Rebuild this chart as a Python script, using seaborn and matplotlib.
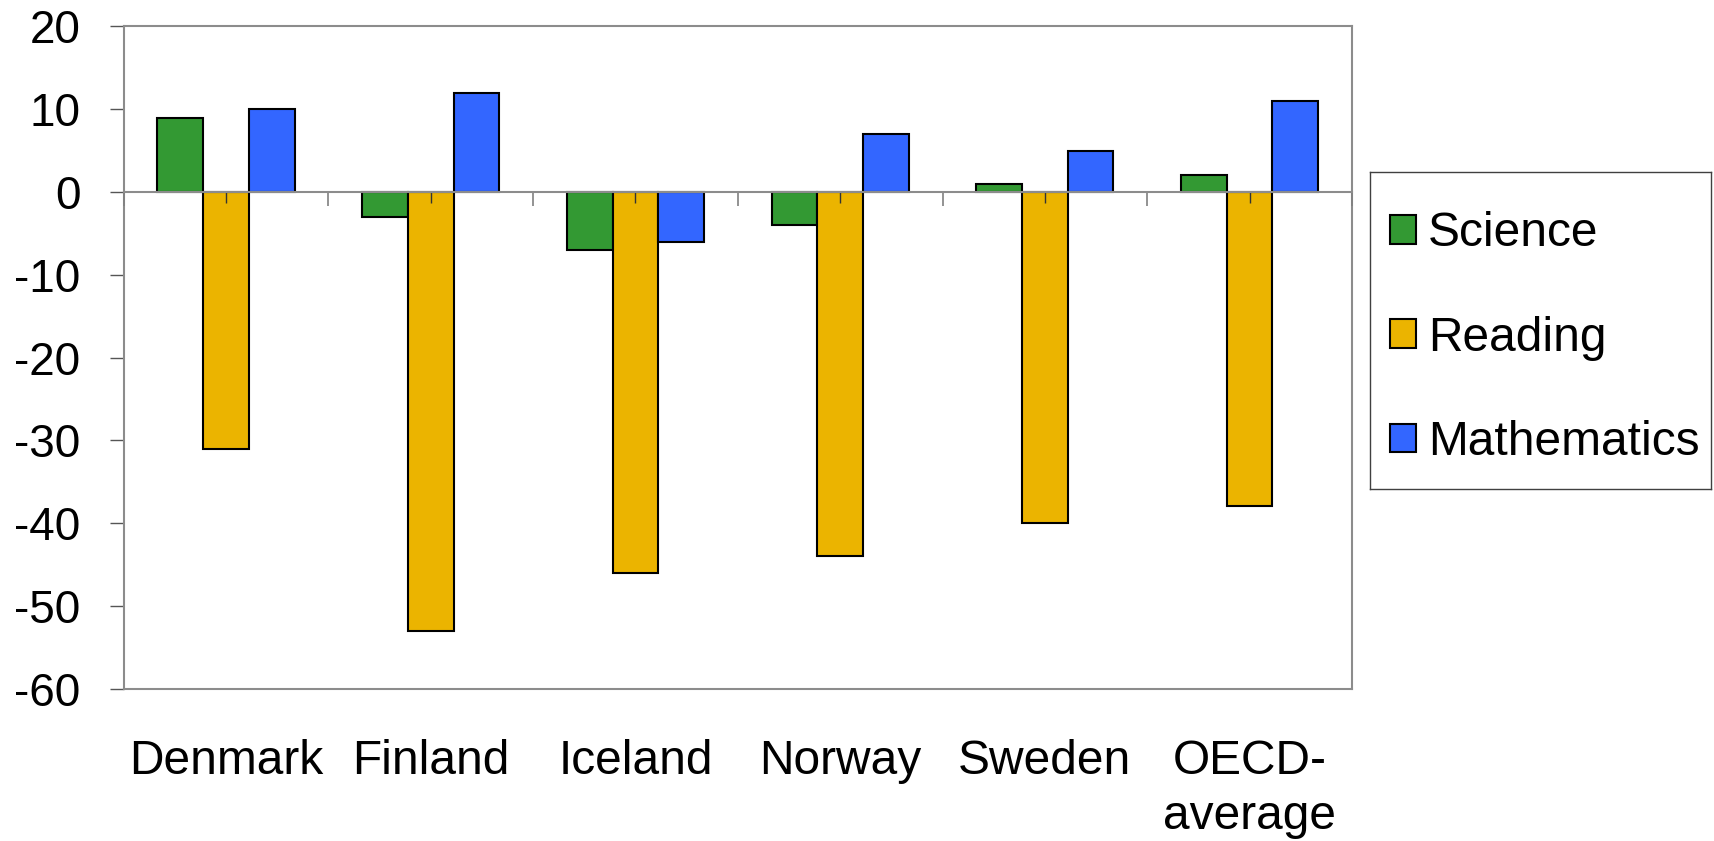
import numpy as np
import pandas as pd
import matplotlib
matplotlib.use("Agg")
import matplotlib.pyplot as plt
import seaborn as sns

countries = ["Denmark", "Finland", "Iceland", "Norway", "Sweden", "OECD-\naverage"]
subjects = ["Science", "Reading", "Mathematics"]
science = [9, -3, -7, -4, 1, 2]
reading = [-31, -53, -46, -44, -40, -38]
mathematics = [10, 12, -6, 7, 5, 11]
colors = ["#339933", "#EBB400", "#3366FF"]
yticks = [20, 10, 0, -10, -20, -30, -40, -50, -60]
ymin, ymax = -60, 20

df = pd.DataFrame({
    "country": countries * 3,
    "subject": np.repeat(subjects, len(countries)),
    "value": science + reading + mathematics,
})

sns.set_theme(style="white")
plt.rcParams["font.family"] = ["Liberation Sans", "DejaVu Sans"]
plt.rcParams["axes.unicode_minus"] = False
plt.rcParams["text.color"] = "black"

fig = plt.figure(figsize=(17.14, 8.41), dpi=100)
ax = fig.add_axes([0.0721, 0.1813, 0.7167, 0.7872])

sns.barplot(data=df, x="country", y="value", hue="subject", order=countries,
            hue_order=subjects, palette=colors, width=0.67, gap=0,
            edgecolor="black", linewidth=1.5, saturation=1, errorbar=None, ax=ax)

ax.set_xlim(-0.5, len(countries) - 0.5)
ax.set_ylim(ymin, ymax)
ax.set_yticks(yticks)
ax.set_xlabel("")
ax.set_ylabel("")

for s in ax.spines.values():
    s.set_visible(True)
    s.set_color("#8c8c8c")
    s.set_linewidth(1.5)

ax.tick_params(axis="x", length=0, pad=36.5, labelsize=34.5, labelcolor="black")
for lab in ax.get_xticklabels():
    lab.set_linespacing(1.27)
ax.tick_params(axis="y", left=True, length=10, width=1, color="#555555",
               direction="out", pad=21, labelsize=33, labelcolor="black")

# category axis crossing at zero
loc = (0 - ymin) / (ymax - ymin)
sec = ax.secondary_xaxis(loc)
sec.set_alignment("bottom")
sec.set_xticks(np.arange(len(countries) + 1) - 0.5)
sec.set_xticks(np.arange(len(countries)), minor=True)
sec.tick_params(which="major", length=10, width=1.2, direction="out",
                color="#808080", labelbottom=False, labeltop=False)
sec.tick_params(which="minor", length=8, width=1, direction="out",
                color="#333333", labelbottom=False, labeltop=False)
sec.spines["bottom"].set_color("#8c8c8c")
sec.spines["bottom"].set_linewidth(1.5)
sec.set_zorder(5)

handles, labels = ax.get_legend_handles_labels()
if ax.get_legend() is not None:
    ax.get_legend().remove()

# legend box as its own frame
lax = fig.add_axes([1369.6 / 1714, 1 - 488.6 / 841, (1711 - 1369.6) / 1714, (488.6 - 171.6) / 841])
lax.set_xticks([])
lax.set_yticks([])
lax.set_facecolor("white")
for s in lax.spines.values():
    s.set_visible(True)
    s.set_color("#404040")
    s.set_linewidth(1)
leg = lax.legend(handles, labels, loc="center left", bbox_to_anchor=(0, 0.475),
                 borderaxespad=0, fontsize=34.5, frameon=False,
                 borderpad=0.42, labelspacing=1.24, handlelength=0.55,
                 handleheight=0.55, handletextpad=0.25)
for t in leg.get_texts():
    t.set_color("black")

fig.savefig("out.png", dpi=100)
